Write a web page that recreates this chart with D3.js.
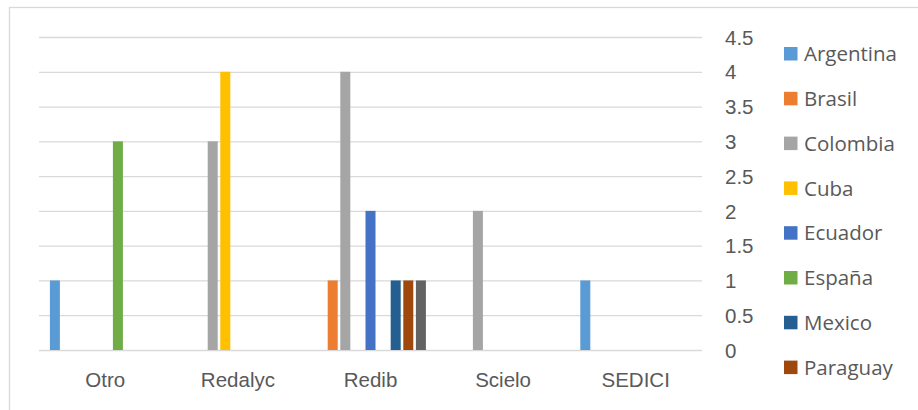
<!DOCTYPE html>
<html>
<head>
<meta charset="utf-8">
<script src="https://cdn.jsdelivr.net/npm/d3@7"></script>
<style>
  html, body { margin: 0; padding: 0; background: #fff; }
  svg { display: block; font-family: "Open Sans", "Noto Sans", sans-serif; }
  .axis text { fill: #595959; }
</style>
</head>
<body>
<div id="chart"></div>
<script>
// Data
const categories = ['Otro', 'Redalyc', 'Redib', 'Scielo', 'SEDICI'];
const seriesNames = ['Argentina', 'Brasil', 'Colombia', 'Cuba', 'Ecuador', 'España', 'Mexico', 'Paraguay', 'Perú'];
const seriesColors = ['#5B9BD5', '#ED7D31', '#A5A5A5', '#FFC000', '#4472C4', '#70AD47', '#255E91', '#9E480E', '#636363'];
const argentina = [1, 0, 0, 0, 1];
const brasil    = [0, 0, 1, 0, 0];
const colombia  = [0, 3, 4, 2, 0];
const cuba      = [0, 4, 0, 0, 0];
const ecuador   = [0, 0, 2, 0, 0];
const espana    = [3, 0, 0, 0, 0];
const mexico    = [0, 0, 1, 0, 0];
const paraguay  = [0, 0, 1, 0, 0];
const peru      = [0, 0, 1, 0, 0];
const yTicks = [0, 0.5, 1, 1.5, 2, 2.5, 3, 3.5, 4, 4.5];

const seriesValues = [argentina, brasil, colombia, cuba, ecuador, espana, mexico, paraguay, peru];

// Layout
const WIDTH = 918;
const HEIGHT = 410;
const PLOT_LEFT = 39;
const PLOT_RIGHT = 702;
const PLOT_TOP = 37;
const PLOT_BOTTOM = 350;
const GROUP_PAD = 10.9;
const FONT_SIZE = 20.5;

const svg = d3.select('#chart')
    .append('svg')
    .attr('width', WIDTH)
    .attr('height', HEIGHT);

// Outer chart frame
svg.append('rect')
    .attr('x', 9.5)
    .attr('y', 7.5)
    .attr('width', 1000)
    .attr('height', 1000)
    .attr('fill', 'none')
    .attr('stroke', '#d9d9d9')
    .attr('stroke-width', 1.3);

// Scales
const x0 = d3.scaleBand()
    .domain(categories)
    .range([PLOT_LEFT, PLOT_RIGHT])
    .padding(0);

const x1 = d3.scaleBand()
    .domain(seriesNames)
    .range([GROUP_PAD, x0.bandwidth() - GROUP_PAD])
    .paddingInner(0.206)
    .paddingOuter(0);

const y = d3.scaleLinear()
    .domain([0, 4.5])
    .range([PLOT_BOTTOM, PLOT_TOP]);

// Gridlines
svg.append('g')
    .attr('class', 'grid')
    .attr('transform', `translate(${PLOT_LEFT},0)`)
    .call(d3.axisRight(y).tickValues(yTicks).tickSize(PLOT_RIGHT - PLOT_LEFT).tickFormat(''))
    .call(g => g.select('.domain').remove())
    .call(g => g.selectAll('line').attr('stroke', '#d9d9d9').attr('stroke-width', 1.3));

// Y tick labels on the right
svg.append('g')
    .attr('class', 'axis')
    .attr('transform', `translate(725,0)`)
    .call(d3.axisRight(y).tickValues(yTicks).tickSize(0).tickPadding(0).tickFormat(d3.format('')))
    .call(g => g.select('.domain').remove())
    .call(g => g.selectAll('text').attr('font-size', FONT_SIZE).attr('dy', '0.35em'));

// Category labels
svg.append('g')
    .attr('class', 'axis')
    .attr('transform', `translate(0,${PLOT_BOTTOM})`)
    .call(d3.axisBottom(x0).tickSize(0).tickPadding(0))
    .call(g => g.select('.domain').remove())
    .call(g => g.selectAll('text').attr('font-size', FONT_SIZE).attr('y', 30).attr('dy', '0.35em'));

// Bars
const rows = categories.map((c, ci) => ({
    category: c,
    values: seriesNames.map((s, si) => ({ name: s, value: seriesValues[si][ci], color: seriesColors[si] }))
}));

const groups = svg.append('g')
    .selectAll('g')
    .data(rows)
    .join('g')
    .attr('transform', d => `translate(${x0(d.category)},0)`);

groups.selectAll('rect')
    .data(d => d.values.filter(v => v.value > 0))
    .join('rect')
    .attr('x', d => x1(d.name))
    .attr('y', d => y(d.value))
    .attr('width', x1.bandwidth())
    .attr('height', d => y(0) - y(d.value))
    .attr('fill', d => d.color);

// Legend (only the entries that fit inside the chart area are shown)
const LEGEND_X = 784;
const LEGEND_Y = 47;
const LEGEND_STEP = 44.8;
const legendItems = seriesNames.filter((d, i) => LEGEND_Y + i * LEGEND_STEP + 30 < HEIGHT);

const legend = svg.append('g')
    .selectAll('g')
    .data(legendItems)
    .join('g')
    .attr('transform', (d, i) => `translate(${LEGEND_X},${LEGEND_Y + i * LEGEND_STEP})`);

legend.append('rect')
    .attr('width', 13.5)
    .attr('height', 13.5)
    .attr('fill', (d, i) => seriesColors[i]);

legend.append('text')
    .attr('x', 20)
    .attr('y', 7)
    .attr('dy', '0.35em')
    .attr('font-size', FONT_SIZE)
    .attr('fill', '#595959')
    .text(d => d);
</script>
</body>
</html>
